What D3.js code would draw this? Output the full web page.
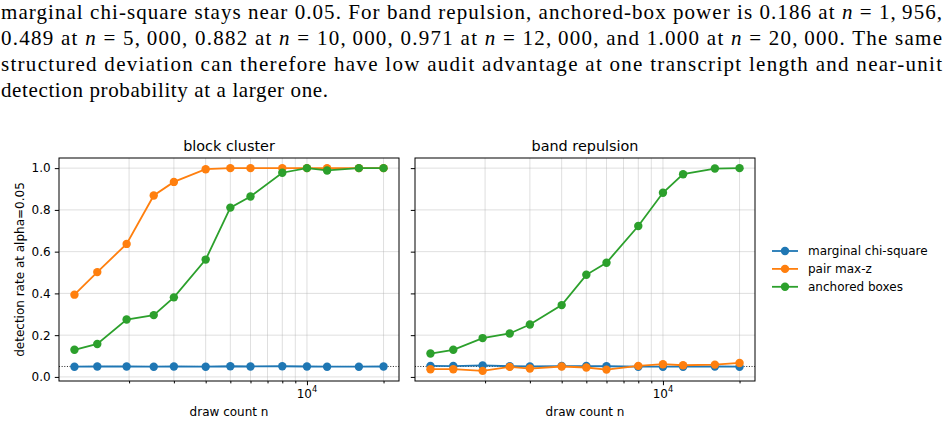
<!DOCTYPE html>
<html>
<head>
<meta charset="utf-8">
<script src="https://cdn.jsdelivr.net/npm/d3@7"></script>
<style>
  body { margin: 0; background: #fff; }
  svg { display: block; }
</style>
</head>
<body>
<svg id="chart"></svg>
<script>
// transcript lengths (x) shared by both panels
const drawCounts = [1220, 1500, 1956, 2500, 3000, 4000, 5000, 6000, 8000, 10000, 12000, 16000, 20000];

// block cluster
const blockChi = [0.049, 0.050, 0.050, 0.049, 0.050, 0.049, 0.051, 0.050, 0.051, 0.050, 0.049, 0.049, 0.050];
const blockPair = [0.394, 0.502, 0.637, 0.869, 0.934, 0.995, 1.0, 1.0, 1.0, 1.0, 1.0, 1.0, 1.0];
const blockBoxes = [0.130, 0.158, 0.275, 0.296, 0.381, 0.562, 0.811, 0.864, 0.978, 1.0, 0.989, 1.0, 1.0];

// band repulsion
const bandChi = [0.053, 0.052, 0.055, 0.051, 0.050, 0.052, 0.052, 0.051, 0.049, 0.049, 0.049, 0.050, 0.049];
const bandPair = [0.037, 0.037, 0.029, 0.048, 0.040, 0.050, 0.045, 0.035, 0.053, 0.061, 0.056, 0.059, 0.067];
const bandBoxes = [0.112, 0.130, 0.186, 0.208, 0.251, 0.344, 0.489, 0.547, 0.723, 0.882, 0.971, 0.998, 1.000];

const panelTitles = ['block cluster', 'band repulsion'];
const seriesNames = ['marginal chi-square', 'pair max-z', 'anchored boxes'];
const seriesColors = ['#1f77b4', '#ff7f0e', '#2ca02c'];
const yTicks = [0, 0.2, 0.4, 0.6, 0.8, 1.0];
const xMajorTicks = [10000];
const xMinorTicks = [2000, 3000, 4000, 5000, 6000, 7000, 8000, 9000, 20000];
const alphaLevel = 0.05;

// text lines above the figure, *n* = italic
const paragraphLines = [
  'marginal chi-square stays near 0.05. For band repulsion, anchored-box power is 0.186 at *n* = 1,\u2009956,',
  '0.489 at *n* = 5,\u2009000, 0.882 at *n* = 10,\u2009000, 0.971 at *n* = 12,\u2009000, and 1.000 at *n* = 20,\u2009000. The same',
  'structured deviation can therefore have low audit advantage at one transcript length and near-unit',
  'detection probability at a larger one.'
];

const width = 950;
const height = 423;

const svg = d3.select('#chart')
  .attr('width', width)
  .attr('height', height);

svg.append('rect')
  .attr('width', width)
  .attr('height', height)
  .attr('fill', '#fff');

// paragraph
const lineWidths = [941, 941, 941, 327];
paragraphLines.forEach((line, i) => {
  const t = svg.append('text')
    .attr('x', 1)
    .attr('y', 19 + i * 26)
    .attr('font-family', 'Liberation Serif')
    .attr('font-size', 21)
    .attr('fill', '#000')
    .attr('textLength', lineWidths[i])
    .attr('lengthAdjust', 'spacing');
  line.split('*').forEach((part, j) => {
    t.append('tspan')
      .attr('font-style', j % 2 ? 'italic' : 'normal')
      .text(part);
  });
});

// figure layout
const plotTop = 158;
const plotBottom = 381;
const plotH = plotBottom - plotTop;
const panelW = 340;
const panelLefts = [59, 415];
const fontFamily = 'DejaVu Sans';

// matplotlib-style 5% margins
const logMin = Math.log10(d3.min(drawCounts));
const logMax = Math.log10(d3.max(drawCounts));
const logPad = (logMax - logMin) * 0.05;
const xDomain = [Math.pow(10, logMin - logPad), Math.pow(10, logMax + logPad)];

const allValues = [blockChi, blockPair, blockBoxes, bandChi, bandPair, bandBoxes].flat();
const yMin = d3.min(allValues);
const yMax = d3.max(allValues);
const yPad = (yMax - yMin) * 0.05;

const x = d3.scaleLog().domain(xDomain).range([0, panelW]);
const y = d3.scaleLinear().domain([yMin - yPad, yMax + yPad]).range([plotH, 0]);

const panelSeries = [
  [blockChi, blockPair, blockBoxes],
  [bandChi, bandPair, bandBoxes]
];

panelSeries.forEach((series, p) => {
  const g = svg.append('g')
    .attr('transform', `translate(${panelLefts[p]},${plotTop})`);

  // grid
  g.append('g')
    .selectAll('line')
    .data(xMajorTicks.concat(xMinorTicks))
    .join('line')
    .attr('x1', d => x(d))
    .attr('x2', d => x(d))
    .attr('y1', 0)
    .attr('y2', plotH)
    .attr('stroke', '#b0b0b0')
    .attr('stroke-opacity', 0.4)
    .attr('stroke-width', 1);

  g.append('g')
    .selectAll('line')
    .data(yTicks)
    .join('line')
    .attr('x1', 0)
    .attr('x2', panelW)
    .attr('y1', d => y(d))
    .attr('y2', d => y(d))
    .attr('stroke', '#b0b0b0')
    .attr('stroke-opacity', 0.4)
    .attr('stroke-width', 1);

  // alpha reference line
  g.append('line')
    .attr('x1', 0)
    .attr('x2', panelW)
    .attr('y1', y(alphaLevel))
    .attr('y2', y(alphaLevel))
    .attr('stroke', '#222')
    .attr('stroke-width', 1)
    .attr('stroke-dasharray', '1,1.65');

  const line = d3.line()
    .x((d, i) => x(drawCounts[i]))
    .y(d => y(d));

  series.forEach((values, s) => {
    g.append('path')
      .datum(values)
      .attr('d', line)
      .attr('fill', 'none')
      .attr('stroke', seriesColors[s])
      .attr('stroke-width', 1.8);

    g.append('g')
      .selectAll('circle')
      .data(values)
      .join('circle')
      .attr('cx', (d, i) => x(drawCounts[i]))
      .attr('cy', d => y(d))
      .attr('r', 4.2)
      .attr('fill', seriesColors[s]);
  });

  // frame
  g.append('rect')
    .attr('width', panelW)
    .attr('height', plotH)
    .attr('fill', 'none')
    .attr('stroke', '#000')
    .attr('stroke-width', 1);

  // x axis: major and minor ticks
  const xMajor = g.append('g')
    .attr('transform', `translate(0,${plotH})`)
    .call(d3.axisBottom(x).tickValues(xMajorTicks).tickSize(4.2).tickFormat(''));
  const xMinor = g.append('g')
    .attr('transform', `translate(0,${plotH})`)
    .call(d3.axisBottom(x).tickValues(xMinorTicks).tickSize(2.4).tickFormat(''));
  [xMajor, xMinor].forEach(a => {
    a.select('.domain').remove();
    a.selectAll('line').attr('stroke', '#000').attr('stroke-width', 1);
  });

  const tickLabel = g.append('text')
    .attr('x', x(10000))
    .attr('y', plotH + 16.5)
    .attr('text-anchor', 'middle')
    .attr('font-family', fontFamily)
    .attr('font-size', 12)
    .attr('fill', '#000');
  tickLabel.append('tspan').text('10');
  tickLabel.append('tspan')
    .attr('font-size', 8.4)
    .attr('dy', -5.5)
    .text('4');

  // y axis
  const yAxis = g.append('g')
    .call(d3.axisLeft(y)
      .tickValues(yTicks)
      .tickSize(4.2)
      .tickPadding(4.2)
      .tickFormat(p === 0 ? d3.format('.1f') : ''));
  yAxis.select('.domain').remove();
  yAxis.selectAll('line').attr('stroke', '#000').attr('stroke-width', 1);
  yAxis.selectAll('text')
    .attr('font-family', fontFamily)
    .attr('font-size', 12)
    .attr('fill', '#000');

  // titles
  g.append('text')
    .attr('x', panelW / 2)
    .attr('y', -7.3)
    .attr('text-anchor', 'middle')
    .attr('font-family', fontFamily)
    .attr('font-size', 14.4)
    .attr('fill', '#000')
    .text(panelTitles[p]);

  g.append('text')
    .attr('x', panelW / 2)
    .attr('y', plotH + 34.5)
    .attr('text-anchor', 'middle')
    .attr('font-family', fontFamily)
    .attr('font-size', 12)
    .attr('fill', '#000')
    .text('draw count n');
});

// shared y label
svg.append('text')
  .attr('transform', `translate(24,${(plotTop + plotBottom) / 2}) rotate(-90)`)
  .attr('text-anchor', 'middle')
  .attr('font-family', fontFamily)
  .attr('font-size', 12)
  .attr('fill', '#000')
  .text('detection rate at alpha=0.05');

// legend
const legend = svg.append('g')
  .attr('transform', 'translate(772,251)');

seriesNames.forEach((name, i) => {
  const row = legend.append('g')
    .attr('transform', `translate(0,${i * 17.9})`);
  row.append('line')
    .attr('x1', 0)
    .attr('x2', 26)
    .attr('stroke', seriesColors[i])
    .attr('stroke-width', 1.8);
  row.append('circle')
    .attr('cx', 13)
    .attr('r', 4.2)
    .attr('fill', seriesColors[i]);
  row.append('text')
    .attr('x', 36)
    .attr('dy', '0.35em')
    .attr('font-family', fontFamily)
    .attr('font-size', 12)
    .attr('fill', '#000')
    .text(name);
});
</script>
</body>
</html>
